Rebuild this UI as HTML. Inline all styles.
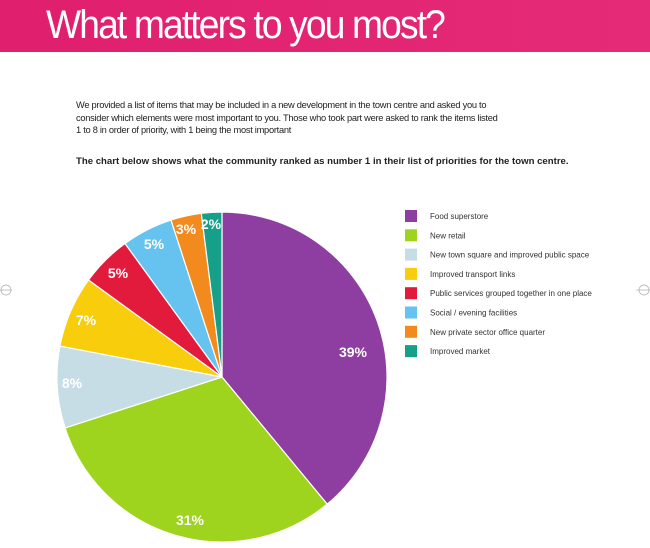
<!DOCTYPE html>
<html><head><style>
body{margin:0;width:650px;height:548px;background:#fff;font-family:"Liberation Sans",sans-serif;overflow:hidden;position:relative}
.hdr{position:absolute;left:0;top:0;width:650px;height:52px;background:linear-gradient(90deg,#e01f6e,#e52b78)}
.hdr span{position:absolute;left:46px;top:3px;color:#fff;font-size:40px;letter-spacing:-2px;transform:scaleX(0.93);transform-origin:left}
.p{position:absolute;left:76px;top:99px;font-size:9.3px;line-height:12.5px;color:#222;letter-spacing:-0.28px}
.b{position:absolute;left:76px;top:156px;font-size:9.6px;font-weight:bold;color:#222;letter-spacing:0px}
</style></head><body>
<div class="hdr"><span>What matters to you most?</span></div>
<div class="p">We provided a list of items that may be included in a new development in the town centre and asked you to<br>consider which elements were most important to you. Those who took part were asked to rank the items listed<br>1 to 8 in order of priority, with 1 being the most important</div>
<div class="b">The chart below shows what the community ranked as number 1 in their list of priorities for the town centre.</div>
<svg id="s" width="650" height="548" style="position:absolute;left:0;top:0"></svg>
<script>
var s=document.getElementById('s'),cx=222,cy=377,r=165;
var d=[[39,'#8e3ea0','Food superstore',353,357],[31,'#9ed31e','New retail',190,525],[8,'#c7dde6','New town square and improved public space',72,388],[7,'#f7cd0c','Improved transport links',86,325],[5,'#e21b3c','Public services grouped together in one place',118,278],[5,'#66c2ef','Social / evening facilities',154,249],[3,'#f38a1d','New private sector office quarter',186,234],[2,'#17a089','Improved market',211,229]];
var h='',a=0;
function pt(t){return [cx+r*Math.sin(t*2*Math.PI/100),cy-r*Math.cos(t*2*Math.PI/100)];}
d.forEach(function(e,i){var p1=pt(a),p2=pt(a+e[0]);
h+='<path d="M'+cx+','+cy+'L'+p1[0]+','+p1[1]+'A'+r+','+r+' 0 '+(e[0]>50?1:0)+' 1 '+p2[0]+','+p2[1]+'Z" fill="'+e[1]+'" stroke="#fff" stroke-width="1.2"/>';
a+=e[0];
var y=210+i*19.3;
h+='<rect x="405" y="'+y+'" width="12" height="12" fill="'+e[1]+'"/>';
h+='<text x="430" y="'+(y+9)+'" font-size="8" fill="#333" font-family="Liberation Sans,sans-serif">'+e[2]+'</text>';
});
d.forEach(function(e){h+='<text x="'+e[3]+'" y="'+e[4]+'" text-anchor="middle" font-size="14" font-weight="bold" fill="#fff" font-family="Liberation Sans,sans-serif">'+e[0]+'%</text>';});
h+='<circle cx="6" cy="290" r="5" fill="none" stroke="#aaa" stroke-width="0.7"/><line x1="0" y1="290" x2="12" y2="290" stroke="#aaa" stroke-width="0.7"/>';
h+='<circle cx="644" cy="290" r="5" fill="none" stroke="#aaa" stroke-width="0.7"/><line x1="636" y1="290" x2="650" y2="290" stroke="#aaa" stroke-width="0.7"/>';
s.innerHTML=h;
</script>
</body></html>
